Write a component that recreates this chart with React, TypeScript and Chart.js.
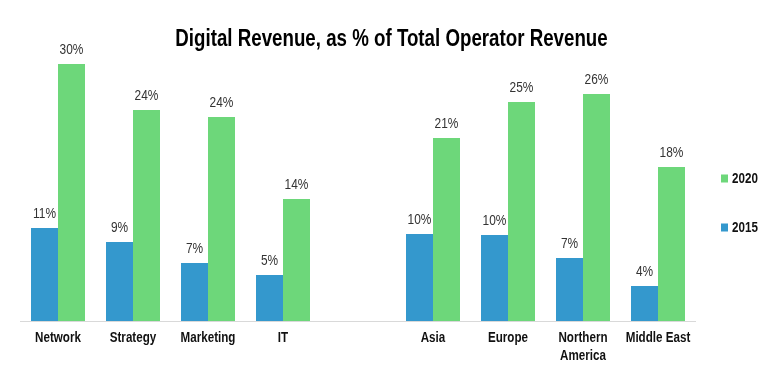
import React, { useEffect, useRef } from "react";
import { Chart, registerables, CategoryScale } from "chart.js";

// ---- data ----
const categories: (string | string[])[] = [
  "Network",
  "Strategy",
  "Marketing",
  "IT",
  "",
  "Asia",
  "Europe",
  ["Northern", "America"],
  "Middle East",
];
const seriesNames = ["2015", "2020"];
const values2015: (number | null)[] = [10.75, 9.13, 6.71, 5.32, null, 10.06, 9.94, 7.28, 4.05];
const values2020: (number | null)[] = [29.7, 24.39, 23.58, 14.1, null, 21.16, 25.32, 26.24, 17.8];
const titleText = "Digital Revenue, as % of Total Operator Revenue";

// ---- style ----
const FONT = "'Liberation Sans', Arial, sans-serif";
const NARROW = 0.83; // emulate a condensed face
const TITLE_NARROW = 0.764;
const BLUE = "#3498cd";
const GREEN = "#6dd77a";

class NarrowCategoryScale extends CategoryScale {
  static id = "narrowCategory";
  static defaults = (CategoryScale as any).defaults;
  drawLabels(chartArea: any) {
    const self = this as any;
    const ctx = self.ctx;
    const items = self.getLabelItems(chartArea);
    for (const item of items) {
      const opts = item.options;
      const font = item.font;
      const lines = Array.isArray(item.label) ? item.label : [item.label];
      ctx.save();
      ctx.translate(opts.translation[0], opts.translation[1]);
      ctx.scale(NARROW, 1);
      ctx.font = font.string;
      ctx.fillStyle = opts.color;
      ctx.textAlign = opts.textAlign;
      ctx.textBaseline = opts.textBaseline;
      let y = item.textOffset;
      for (const line of lines) {
        ctx.fillText(String(line), 0, y);
        y += font.lineHeight;
      }
      ctx.restore();
    }
  }
}

Chart.register(...registerables, NarrowCategoryScale as any);

const narrowTitle = {
  id: "narrowTitle",
  afterDraw(chart: any) {
    const ctx = chart.ctx;
    ctx.save();
    ctx.translate(chart.width / 2, 45.5);
    ctx.scale(TITLE_NARROW, 1);
    ctx.font = `bold 24.5px ${FONT}`;
    ctx.fillStyle = "#000000";
    ctx.textAlign = "center";
    ctx.textBaseline = "alphabetic";
    ctx.fillText(titleText, 0, 0);
    ctx.restore();
  },
};

const valueLabels = {
  id: "valueLabels",
  afterDatasetsDraw(chart: any) {
    const ctx = chart.ctx;
    chart.data.datasets.forEach((ds: any, i: number) => {
      const meta = chart.getDatasetMeta(i);
      meta.data.forEach((bar: any, j: number) => {
        const v = ds.data[j];
        if (v == null) return;
        ctx.save();
        ctx.translate(bar.x, bar.y - 10);
        ctx.scale(NARROW + 0.02, 1);
        ctx.font = `14px ${FONT}`;
        ctx.fillStyle = "#333333";
        ctx.textAlign = "center";
        ctx.textBaseline = "alphabetic";
        ctx.fillText(`${Math.round(v)}%`, 0, 0);
        ctx.restore();
      });
    });
  },
};

const sideLegend = {
  id: "sideLegend",
  afterDraw(chart: any) {
    const { ctx, chartArea } = chart;
    const items = chart.data.datasets
      .map((ds: any) => ({ label: ds.label, color: ds.backgroundColor }))
      .reverse();
    items.forEach((it: any, k: number) => {
      const y = chartArea.top + 117 + k * 49;
      ctx.save();
      ctx.fillStyle = it.color;
      ctx.fillRect(chartArea.right + 25.5, y - 4, 7, 8);
      ctx.translate(chartArea.right + 36.5, y + 0.5);
      ctx.scale(NARROW, 1);
      ctx.font = `bold 14px ${FONT}`;
      ctx.textBaseline = "middle";
      ctx.textAlign = "left";
      ctx.fillStyle = "#111111";
      ctx.fillText(it.label, 0, 0);
      ctx.restore();
    });
  },
};

export default function App() {
  const ref = useRef<HTMLCanvasElement | null>(null);
  useEffect(() => {
    if (!ref.current) return;
    const chart = new Chart(ref.current, {
      type: "bar",
      data: {
        labels: categories as any,
        datasets: [
          {
            label: seriesNames[0],
            data: values2015 as any,
            backgroundColor: BLUE,
            categoryPercentage: 0.72,
            barPercentage: 1,
          },
          {
            label: seriesNames[1],
            data: values2020 as any,
            backgroundColor: GREEN,
            categoryPercentage: 0.72,
            barPercentage: 1,
          },
        ],
      },
      options: {
        animation: false,
        responsive: true,
        maintainAspectRatio: false,
        layout: { padding: { left: 20.5, right: 87.5, top: 61.5, bottom: 0 } },
        plugins: {
          legend: { display: false },
          tooltip: { enabled: false },
          title: { display: false },
        },
        scales: {
          x: {
            type: "narrowCategory",
            offset: true,
            grid: { display: false, drawTicks: false },
            border: { display: true, color: "#d9d9d9", width: 1 },
            ticks: {
              font: { family: FONT, size: 14, weight: "bold", lineHeight: 1.3 },
              color: "#111111",
              padding: 8,
              maxRotation: 0,
              autoSkip: false,
            },
            afterFit: (s: any) => {
              s.height = 52;
            },
          },
          y: { display: false, min: 0, max: 30 },
        },
      } as any,
      plugins: [valueLabels, sideLegend, narrowTitle],
    });
    return () => chart.destroy();
  }, []);
  return (
    <div style={{ position: "fixed", left: 0, top: 0, width: 783, height: 373 }}>
      <canvas ref={ref} />
    </div>
  );
}
